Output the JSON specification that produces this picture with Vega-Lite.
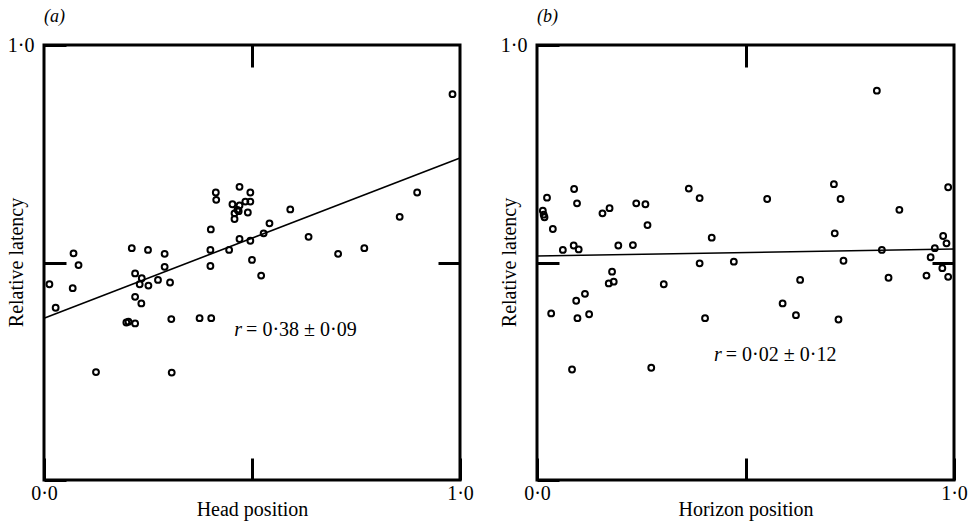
{
  "$schema": "https://vega.github.io/schema/vega-lite/v6.json",
  "background": "white",
  "padding": {"left": 4, "top": 6, "right": 5, "bottom": 0},
  "spacing": 22,
  "datasets": {
    "a": [
      {"x": 0.013, "y": 0.450}, {"x": 0.028, "y": 0.396}, {"x": 0.071, "y": 0.521}, {"x": 0.083, "y": 0.494},
      {"x": 0.069, "y": 0.441}, {"x": 0.125, "y": 0.248}, {"x": 0.211, "y": 0.533}, {"x": 0.219, "y": 0.475},
      {"x": 0.235, "y": 0.464}, {"x": 0.230, "y": 0.450}, {"x": 0.250, "y": 0.529}, {"x": 0.251, "y": 0.447},
      {"x": 0.219, "y": 0.421}, {"x": 0.234, "y": 0.406}, {"x": 0.198, "y": 0.362}, {"x": 0.203, "y": 0.364},
      {"x": 0.219, "y": 0.360}, {"x": 0.274, "y": 0.460}, {"x": 0.290, "y": 0.520}, {"x": 0.290, "y": 0.490},
      {"x": 0.303, "y": 0.454}, {"x": 0.306, "y": 0.370}, {"x": 0.307, "y": 0.247}, {"x": 0.374, "y": 0.372},
      {"x": 0.402, "y": 0.372}, {"x": 0.400, "y": 0.492}, {"x": 0.400, "y": 0.529}, {"x": 0.401, "y": 0.576},
      {"x": 0.413, "y": 0.661}, {"x": 0.414, "y": 0.644}, {"x": 0.445, "y": 0.529}, {"x": 0.453, "y": 0.634},
      {"x": 0.458, "y": 0.613}, {"x": 0.458, "y": 0.600}, {"x": 0.470, "y": 0.674}, {"x": 0.470, "y": 0.631},
      {"x": 0.465, "y": 0.621}, {"x": 0.468, "y": 0.618}, {"x": 0.484, "y": 0.640}, {"x": 0.496, "y": 0.640},
      {"x": 0.496, "y": 0.661}, {"x": 0.490, "y": 0.615}, {"x": 0.470, "y": 0.554}, {"x": 0.496, "y": 0.550},
      {"x": 0.500, "y": 0.506}, {"x": 0.522, "y": 0.470}, {"x": 0.528, "y": 0.567}, {"x": 0.542, "y": 0.590},
      {"x": 0.592, "y": 0.622}, {"x": 0.636, "y": 0.559}, {"x": 0.707, "y": 0.520}, {"x": 0.770, "y": 0.533},
      {"x": 0.855, "y": 0.605}, {"x": 0.897, "y": 0.661}, {"x": 0.982, "y": 0.887}
    ],
    "b": [
      {"x": 0.014, "y": 0.619}, {"x": 0.016, "y": 0.610}, {"x": 0.018, "y": 0.604}, {"x": 0.024, "y": 0.649},
      {"x": 0.038, "y": 0.577}, {"x": 0.062, "y": 0.529}, {"x": 0.034, "y": 0.383}, {"x": 0.084, "y": 0.254},
      {"x": 0.089, "y": 0.669}, {"x": 0.096, "y": 0.636}, {"x": 0.088, "y": 0.539}, {"x": 0.100, "y": 0.530},
      {"x": 0.094, "y": 0.412}, {"x": 0.097, "y": 0.372}, {"x": 0.115, "y": 0.428}, {"x": 0.125, "y": 0.381},
      {"x": 0.157, "y": 0.613}, {"x": 0.174, "y": 0.625}, {"x": 0.195, "y": 0.539}, {"x": 0.180, "y": 0.479},
      {"x": 0.172, "y": 0.452}, {"x": 0.184, "y": 0.456}, {"x": 0.230, "y": 0.540}, {"x": 0.238, "y": 0.636},
      {"x": 0.260, "y": 0.634}, {"x": 0.265, "y": 0.586}, {"x": 0.304, "y": 0.450}, {"x": 0.274, "y": 0.258},
      {"x": 0.364, "y": 0.670}, {"x": 0.390, "y": 0.648}, {"x": 0.390, "y": 0.498}, {"x": 0.403, "y": 0.372},
      {"x": 0.419, "y": 0.557}, {"x": 0.472, "y": 0.502}, {"x": 0.552, "y": 0.646}, {"x": 0.589, "y": 0.406},
      {"x": 0.621, "y": 0.379}, {"x": 0.631, "y": 0.460}, {"x": 0.712, "y": 0.680}, {"x": 0.728, "y": 0.646},
      {"x": 0.714, "y": 0.567}, {"x": 0.735, "y": 0.504}, {"x": 0.723, "y": 0.369}, {"x": 0.815, "y": 0.895},
      {"x": 0.869, "y": 0.621}, {"x": 0.827, "y": 0.529}, {"x": 0.843, "y": 0.465}, {"x": 0.934, "y": 0.470},
      {"x": 0.944, "y": 0.512}, {"x": 0.954, "y": 0.533}, {"x": 0.974, "y": 0.561}, {"x": 0.982, "y": 0.544},
      {"x": 0.972, "y": 0.487}, {"x": 0.986, "y": 0.467}, {"x": 0.986, "y": 0.673}
    ],
    "fitA": [{"x": 0, "y": 0.372}, {"x": 1, "y": 0.740}],
    "fitB": [{"x": 0, "y": 0.515}, {"x": 1, "y": 0.531}],
    "one": [{"k": 1}]
  },
  "hconcat": [
    {
      "width": 416,
      "height": 435,
      "title": {"text": "(a)", "anchor": "start", "frame": "group", "font": "Liberation Serif", "fontStyle": "italic", "fontWeight": "normal", "fontSize": 18, "offset": 9, "color": "black"},
      "layer": [
        {
          "data": {"name": "a"},
          "mark": {"type": "point", "shape": "circle", "filled": false, "size": 34, "strokeWidth": 2, "color": "black", "opacity": 1},
          "encoding": {
            "x": {"field": "x", "type": "quantitative", "scale": {"domain": [0, 1], "nice": false, "zero": false},
              "axis": {"orient": "bottom", "values": [0, 0.5, 1], "labelExpr": "datum.value == 0 ? '0·0' : (datum.value == 1 ? '1·0' : '')", "title": "Head position", "labelPadding": 25, "titlePadding": -4}},
            "y": {"field": "y", "type": "quantitative", "scale": {"domain": [0, 1], "nice": false, "zero": false},
              "axis": {"orient": "left", "values": [0, 0.5, 1], "labelExpr": "datum.value == 1 ? '1·0' : ''", "title": "Relative latency", "labelPadding": 32, "titleX": -18, "titleY": 217}}
          }
        },
        {
          "data": {"name": "fitA"},
          "mark": {"type": "line", "color": "black", "strokeWidth": 1.6},
          "encoding": {
            "x": {"field": "x", "type": "quantitative", "axis": {"orient": "top", "values": [0.5], "labels": false, "title": null}},
            "y": {"field": "y", "type": "quantitative", "axis": {"orient": "right", "values": [0.5], "labels": false, "title": null}}
          }
        },
        {
          "data": {"name": "one"},
          "mark": {"type": "text", "text": "r", "font": "Liberation Serif", "fontStyle": "italic", "fontSize": 20, "align": "right", "baseline": "middle", "dx": -2, "color": "black"},
          "encoding": {
            "x": {"datum": 0.481, "type": "quantitative", "axis": null},
            "y": {"datum": 0.345, "type": "quantitative", "axis": null}
          }
        },
        {
          "data": {"name": "one"},
          "mark": {"type": "text", "text": "= 0·38 ± 0·09", "font": "Liberation Serif", "fontSize": 20, "align": "left", "baseline": "middle", "dx": 2, "color": "black"},
          "encoding": {
            "x": {"datum": 0.481, "type": "quantitative", "axis": null},
            "y": {"datum": 0.345, "type": "quantitative", "axis": null}
          }
        }
      ],
      "resolve": {"axis": {"x": "independent", "y": "independent"}}
    },
    {
      "width": 417,
      "height": 435,
      "title": {"text": "(b)", "anchor": "start", "frame": "group", "font": "Liberation Serif", "fontStyle": "italic", "fontWeight": "normal", "fontSize": 18, "offset": 9, "color": "black"},
      "layer": [
        {
          "data": {"name": "b"},
          "mark": {"type": "point", "shape": "circle", "filled": false, "size": 34, "strokeWidth": 2, "color": "black", "opacity": 1},
          "encoding": {
            "x": {"field": "x", "type": "quantitative", "scale": {"domain": [0, 1], "nice": false, "zero": false},
              "axis": {"orient": "bottom", "values": [0, 0.5, 1], "labelExpr": "datum.value == 0 ? '0·0' : (datum.value == 1 ? '1·0' : '')", "title": "Horizon position", "labelPadding": 25, "titlePadding": -4}},
            "y": {"field": "y", "type": "quantitative", "scale": {"domain": [0, 1], "nice": false, "zero": false},
              "axis": {"orient": "left", "values": [0, 0.5, 1], "labelExpr": "datum.value == 1 ? '1·0' : ''", "title": "Relative latency", "labelPadding": 32, "titleX": -18, "titleY": 217}}
          }
        },
        {
          "data": {"name": "fitB"},
          "mark": {"type": "line", "color": "black", "strokeWidth": 1.6},
          "encoding": {
            "x": {"field": "x", "type": "quantitative", "axis": {"orient": "top", "values": [0.5], "labels": false, "title": null}},
            "y": {"field": "y", "type": "quantitative", "axis": {"orient": "right", "values": [0.5], "labels": false, "title": null}}
          }
        },
        {
          "data": {"name": "one"},
          "mark": {"type": "text", "text": "r", "font": "Liberation Serif", "fontStyle": "italic", "fontSize": 20, "align": "right", "baseline": "middle", "dx": -2, "color": "black"},
          "encoding": {
            "x": {"datum": 0.448, "type": "quantitative", "axis": null},
            "y": {"datum": 0.287, "type": "quantitative", "axis": null}
          }
        },
        {
          "data": {"name": "one"},
          "mark": {"type": "text", "text": "= 0·02 ± 0·12", "font": "Liberation Serif", "fontSize": 20, "align": "left", "baseline": "middle", "dx": 2, "color": "black"},
          "encoding": {
            "x": {"datum": 0.448, "type": "quantitative", "axis": null},
            "y": {"datum": 0.287, "type": "quantitative", "axis": null}
          }
        }
      ],
      "resolve": {"axis": {"x": "independent", "y": "independent"}}
    }
  ],
  "config": {
    "font": "Liberation Serif",
    "view": {"stroke": "black", "strokeWidth": 3},
    "axis": {
      "grid": false, "domain": false,
      "labelFont": "Liberation Serif", "labelFontSize": 20, "labelColor": "black",
      "titleFont": "Liberation Serif", "titleFontSize": 20, "titleFontWeight": "normal", "titleColor": "black",
      "tickColor": "black", "tickWidth": 3, "tickSize": -22,
      "labelFlush": false, "labelOverlap": false
    }
  }
}
